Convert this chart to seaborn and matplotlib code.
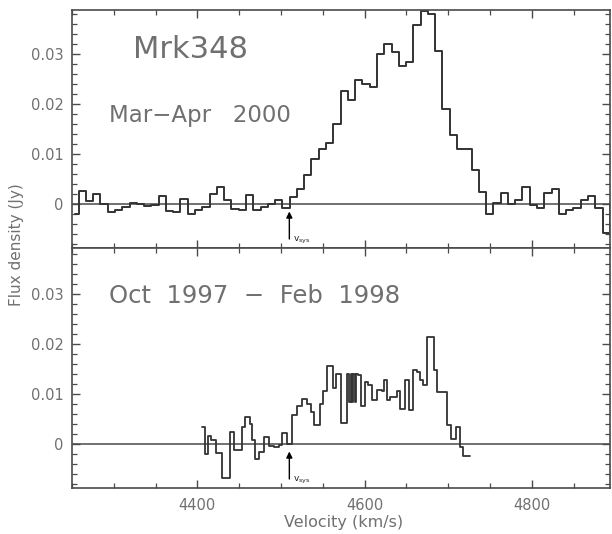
import numpy as np
import pandas as pd
import matplotlib
matplotlib.use("Agg")
import matplotlib.pyplot as plt
from matplotlib.ticker import MultipleLocator
import seaborn as sns

# ---------------- data ----------------
# Mar-Apr 2000 spectrum: channel centre velocities (km/s) and flux density (Jy)
top_vel = [4253.6, 4262.3, 4271.0, 4279.7, 4288.4, 4297.1, 4305.8, 4314.5, 4323.2, 4331.9,
           4340.6, 4349.3, 4358.0, 4366.7, 4375.4, 4384.1, 4392.8, 4401.5, 4410.2, 4419.0,
           4427.7, 4436.4, 4445.1, 4453.8, 4462.5, 4471.2, 4479.9, 4488.6, 4497.3, 4506.0,
           4514.7, 4523.4, 4532.1, 4540.8, 4549.5, 4558.2, 4566.9, 4575.6, 4584.3, 4593.0,
           4601.7, 4610.4, 4619.2, 4627.9, 4636.6, 4645.3, 4654.0, 4662.7, 4671.4, 4680.1,
           4688.8, 4697.5, 4706.2, 4714.9, 4723.6, 4732.3, 4741.0, 4749.7, 4758.4, 4767.1,
           4775.8, 4784.5, 4793.2, 4802.0, 4810.7, 4819.4, 4828.1, 4836.8, 4845.5, 4854.2,
           4862.9, 4871.6, 4880.3, 4889.0, 4897.7]
top_flux = [-0.0019, 0.0027, 0.0007, 0.0021, 0.0001, -0.0015, -0.0012, -0.0005, 0.0003, 0.0001,
            -0.0004, -0.0001, 0.0016, -0.0013, -0.0015, 0.0011, -0.0019, -0.0012, -0.0005, 0.0021,
            0.0035, 0.0008, -0.0009, -0.0012, 0.0019, -0.0012, -0.0005, 0.0001, 0.0009, -0.0007,
            0.0014, 0.0030, 0.0059, 0.0091, 0.0111, 0.0122, 0.0161, 0.0226, 0.0209, 0.0248,
            0.0241, 0.0234, 0.0300, 0.0321, 0.0304, 0.0276, 0.0284, 0.0358, 0.0386, 0.0381,
            0.0306, 0.0191, 0.0138, 0.0111, 0.0111, 0.0068, 0.0025, -0.0019, 0.0003, 0.0022,
            0.0001, 0.0009, 0.0034, -0.0002, -0.0007, 0.0022, 0.0030, -0.0019, -0.0011, -0.0007,
            0.0009, 0.0017, -0.0008, -0.0058, 0.0002]

# Oct 1997 - Feb 1998 spectrum: channel edges (km/s) and flux density (Jy) per channel
bot_edges = [4406.0, 4409.6, 4412.3, 4416.4, 4422.7, 4429.9, 4438.6, 4443.3, 4453.4, 4457.3,
             4462.4, 4465.3, 4469.3, 4473.2, 4479.2, 4485.1, 4491.9, 4497.9, 4501.1, 4507.1,
             4513.1, 4519.0, 4525.0, 4531.0, 4535.8, 4539.7, 4546.3, 4550.8, 4555.6, 4562.0,
             4566.0, 4571.9, 4578.7, 4581.5, 4583.2, 4584.9, 4586.6, 4588.3, 4590.0, 4592.2,
             4595.5, 4600.6, 4604.5, 4608.6, 4614.6, 4620.5, 4623.3, 4626.5, 4630.4,
             4638.4, 4642.4, 4648.4, 4653.5, 4658.3, 4663.0, 4666.3, 4670.2, 4675.0, 4683.0,
             4686.9, 4698.1, 4702.9, 4709.2, 4714.0, 4718.0, 4726.0]
bot_flux = [0.0035, -0.0019, 0.0016, 0.0009, -0.0017, -0.0067, 0.0025, -0.0012, 0.0035, 0.0055,
            0.0041, 0.0008, -0.0029, -0.0015, 0.0015, -0.0004, -0.0005, -0.0002, 0.0023, 0.0000,
            0.0058, 0.0076, 0.0091, 0.0081, 0.0064, 0.0038, 0.0081, 0.0106, 0.0156, 0.0113,
            0.0140, 0.0042, 0.0141, 0.0085, 0.0141, 0.0085, 0.0140, 0.0085, 0.0140,
            0.0138, 0.0076, 0.0125, 0.0118, 0.0089, 0.0109, 0.0107, 0.0129, 0.0088, 0.0095,
            0.0107, 0.0071, 0.0129, 0.0068, 0.0149, 0.0145, 0.0128, 0.0118, 0.0215, 0.0148,
            0.0105, 0.0038, 0.0011, 0.0035, -0.0005, -0.0024]

v_sys = 4510
x_major = [4400, 4600, 4800]
y_major = [0, 0.01, 0.02, 0.03]
y_labels = ["0", "0.01", "0.02", "0.03"]
title = "Mrk348"
top_label = "Mar\u2212Apr   2000"
bot_label = "Oct  1997  \u2212  Feb  1998"

# ---------------- style ----------------
sns.set_theme(style="ticks")
plt.rcParams["font.family"] = ["DejaVu Sans"]
TXT = "#707070"
LINE = "#333333"
SP = "#4a4a4a"

W, H = 612, 534
fig = plt.figure(figsize=(W / 100, H / 100), dpi=100)
fig.patch.set_facecolor("white")

left, right = 72 / W, 609.5 / W
ax_top = fig.add_axes([left, 1 - 248 / H, right - left, 238 / H])
ax_bot = fig.add_axes([left, 1 - 488 / H, right - left, 240 / H])

df_top = pd.DataFrame({"v": top_vel, "f": top_flux})
sns.lineplot(data=df_top, x="v", y="f", ax=ax_top, drawstyle="steps-mid",
             estimator=None, sort=False, color=LINE, lw=1.4)

n = min(len(bot_flux), len(bot_edges) - 1)
df_bot = pd.DataFrame({"v": list(bot_edges[:n + 1]),
                       "f": list(bot_flux[:n]) + [bot_flux[n - 1]]})
sns.lineplot(data=df_bot, x="v", y="f", ax=ax_bot, drawstyle="steps-post",
             estimator=None, sort=False, color=LINE, lw=1.3)

for ax, ylim in ((ax_top, (-0.0088, 0.0388)), (ax_bot, (-0.0088, 0.0392))):
    ax.set_xlim(4250, 4893)
    ax.set_ylim(*ylim)
    ax.axhline(0, color=SP, lw=1.1, zorder=1)
    ax.set_xticks(x_major)
    ax.xaxis.set_minor_locator(MultipleLocator(50))
    ax.set_yticks(y_major)
    ax.set_yticklabels(y_labels)
    ax.yaxis.set_minor_locator(MultipleLocator(0.002))
    ax.tick_params(axis="both", which="major", direction="in", length=6, width=1,
                   color=SP, labelcolor=TXT, labelsize=10.5, top=True, right=True, pad=6)
    ax.tick_params(axis="both", which="minor", direction="in", length=3.5, width=0.9,
                   color=SP, top=True, right=True)
    for s in ax.spines.values():
        s.set_color(SP)
        s.set_linewidth(1.2)
    ax.set_xlabel("")
    ax.set_ylabel("")
    ax.set_facecolor("white")
    ax.annotate("", xy=(v_sys, -0.0015), xytext=(v_sys, -0.0070),
                arrowprops=dict(arrowstyle="-|>", color="black", lw=1.0,
                                mutation_scale=9, shrinkA=0, shrinkB=0))
    ax.text(v_sys + 4, -0.0072, r"$\mathrm{v_{sys}}$", fontsize=6.5, color="#222222",
            ha="left", va="center")

ax_top.tick_params(axis="x", labelbottom=False)
ax_bot.tick_params(axis="x", labelbottom=True, pad=7)

ax_top.text(0.1135, 0.798, title, transform=ax_top.transAxes, fontsize=22,
            color=TXT, ha="left", va="baseline")
ax_top.text(0.0688, 0.529, top_label, transform=ax_top.transAxes, fontsize=16.5,
            color=TXT, ha="left", va="baseline")
ax_bot.text(0.0688, 0.772, bot_label, transform=ax_bot.transAxes, fontsize=17.5,
            color=TXT, ha="left", va="baseline")

fig.text(17 / W, 1 - 245 / H, "Flux density (Jy)", rotation=90, fontsize=11,
         color=TXT, ha="center", va="center")
fig.text(344 / W, 1 - 523 / H, "Velocity (km/s)", fontsize=11.5,
         color=TXT, ha="center", va="center")

fig.savefig("out.png", dpi=100, facecolor="white")
